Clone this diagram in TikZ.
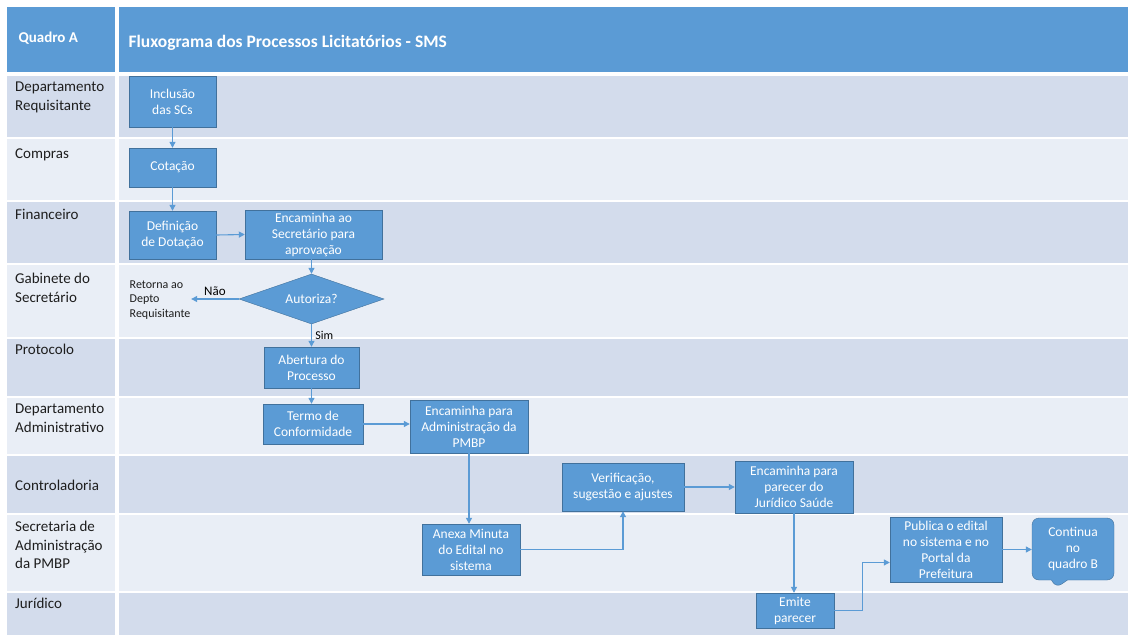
\documentclass[tikz,border=0pt]{standalone}
\usepackage{fontspec}
\setmainfont{Carlito}
\usetikzlibrary{shapes.geometric,shapes.callouts,arrows.meta}
\definecolor{boxblue}{HTML}{5B9BD5}
\definecolor{boxline}{HTML}{41719C}
\definecolor{lanedark}{HTML}{D3DCEC}
\definecolor{lanelight}{HTML}{E9EEF6}
\definecolor{lanetext}{HTML}{1E1E1E}
\tikzstyle{pbox}=[rectangle, draw=boxline, fill=boxblue, thin, text=white, align=center, inner sep=1pt, font=\fontsize{13.5}{16}\selectfont]
\tikzstyle{pdec}=[diamond, draw=boxline, fill=boxblue, thin, text=white, aspect=2.9, inner sep=0pt, font=\fontsize{13.5}{16}\selectfont]
\tikzstyle{lbl}=[anchor=north west, align=left, inner sep=0pt, text=lanetext, font=\fontsize{15}{18.5}\selectfont]
\tikzstyle{arr}=[draw=boxblue, line width=1.1pt, -{Triangle[length=6pt,width=6pt]}]

\begin{document}
\begin{tikzpicture}[x=1pt, y=-1pt]
\useasboundingbox (0,0) rectangle (1128,635);

% cabecalho
\fill[boxblue] (7,7) rectangle (115,72);
\fill[boxblue] (119,7) rectangle (1128,72);
\node[anchor=west, text=white, font=\bfseries\fontsize{15}{18}\selectfont] (quadro) at (15,38) {Quadro A};
\node[anchor=west, text=white, font=\bfseries\fontsize{17.5}{20}\selectfont] (titulo) at (125,43) {Fluxograma dos Processos Licitatórios - SMS};

% raias
\fill[lanedark] (7,76) rectangle (115,137);   \fill[lanedark] (119,76) rectangle (1128,137);
\fill[lanelight] (7,139) rectangle (115,200); \fill[lanelight] (119,139) rectangle (1128,200);
\fill[lanedark] (7,202) rectangle (115,263);  \fill[lanedark] (119,202) rectangle (1128,263);
\fill[lanelight] (7,265) rectangle (115,337); \fill[lanelight] (119,265) rectangle (1128,337);
\fill[lanedark] (7,339) rectangle (115,396);  \fill[lanedark] (119,339) rectangle (1128,396);
\fill[lanelight] (7,398) rectangle (115,454); \fill[lanelight] (119,398) rectangle (1128,454);
\fill[lanedark] (7,456) rectangle (115,513);  \fill[lanedark] (119,456) rectangle (1128,513);
\fill[lanelight] (7,515) rectangle (115,591); \fill[lanelight] (119,515) rectangle (1128,591);
\fill[lanedark] (7,593) rectangle (115,635);  \fill[lanedark] (119,593) rectangle (1128,635);

\node[lbl] (l1) at (15,82) {Departamento\\Requisitante};
\node[lbl] (l2) at (15,149) {Compras};
\node[lbl] (l3) at (15,209) {Financeiro};
\node[lbl] (l4) at (15,273) {Gabinete do\\Secretário};
\node[lbl] (l5) at (15,344) {Protocolo};
\node[lbl] (l6) at (15,404) {Departamento\\Administrativo};
\node[lbl] (l7) at (15,480) {Controladoria};
\node[lbl] (l8) at (15,521) {Secretaria de\\Administração\\da PMBP};
\node[lbl] (l9) at (15,598) {Jurídico};

% caixas
\node[pbox, minimum width=87pt, minimum height=51pt] (inc) at (172.5,101.5) {Inclusão\\das SCs};
\node[pbox, minimum width=87pt, minimum height=39pt] (cot) at (172.5,167.5) {Cotação};
\node[pbox, minimum width=87pt, minimum height=48pt] (dot) at (172.5,235) {Definição\\de Dotação};
\node[pbox, minimum width=137pt, minimum height=49pt] (encsec) at (313.5,234.5) {Encaminha ao\\Secretário para\\aprovação};
\node[pdec, minimum width=145pt, minimum height=50pt] (aut) at (311.5,299) {Autoriza?};
\node[anchor=west, align=left, inner sep=0.5pt, text=lanetext, font=\fontsize{12}{14.5}\selectfont] (ret) at (129,300) {Retorna ao\\Depto\\Requisitante};
\node[pbox, minimum width=95pt, minimum height=41pt] (abe) at (311.5,367.5) {Abertura do\\Processo};
\node[pbox, minimum width=100pt, minimum height=40pt] (ter) at (313,424) {Termo de\\Conformidade};
\node[pbox, minimum width=118pt, minimum height=53pt] (encadm) at (469,426.5) {Encaminha para\\Administração da\\PMBP};
\node[pbox, minimum width=98pt, minimum height=51pt] (anx) at (471,549.5) {Anexa Minuta\\do Edital no\\sistema};
\node[pbox, minimum width=122pt, minimum height=48pt] (ver) at (623,487) {Verificação,\\sugestão e ajustes};
\node[pbox, minimum width=118pt, minimum height=52pt] (encjur) at (794,487) {Encaminha para\\parecer do\\Jurídico Saúde};
\node[pbox, minimum width=78pt, minimum height=35pt] (emi) at (795,610.5) {Emite\\parecer};
\node[pbox, minimum width=112pt, minimum height=65pt] (pub) at (946,549.5) {Publica o edital\\no sistema e no\\Portal da\\Prefeitura};
\node[pbox, rectangle callout, rounded corners=7pt, callout absolute pointer={(1056,588)}, callout pointer width=16pt, minimum width=82pt, minimum height=62pt] (cont) at (1073,549) {Continua\\no\\quadro B};

% ligacoes
\draw[arr] (inc.south) -- (cot.north);
\draw[arr] (cot.south) -- (dot.north);
\draw[arr] (dot.east) -- (encsec.west);
\draw[arr] (aut.north |- encsec.south) -- (aut.north);
\draw[arr] (aut.west) -- (aut.west -| ret.east) node[midway, above, text=black, font=\fontsize{13}{15}\selectfont] (nao) {Não};
\draw[arr] (aut.south) -- (abe.north) node[midway, right, text=black, font=\fontsize{12}{14}\selectfont] (sim) {Sim};
\draw[arr] (abe.south) -- (abe.south |- ter.north);
\draw[arr] (ter.east) -- (ter.east -| encadm.west);
\draw[arr] (encadm.south) -- (encadm.south |- anx.north);
\draw[arr] (anx.east) -| (ver.south);
\draw[arr] (ver.east) -- (ver.east -| encjur.west);
\draw[arr] (encjur.south) -- (encjur.south |- emi.north);
\draw[arr] (emi.east) -- ++(28,0) |- (pub.193);
\draw[arr] (pub.east) -- (pub.east -| cont.west);

\end{tikzpicture}
\end{document}
